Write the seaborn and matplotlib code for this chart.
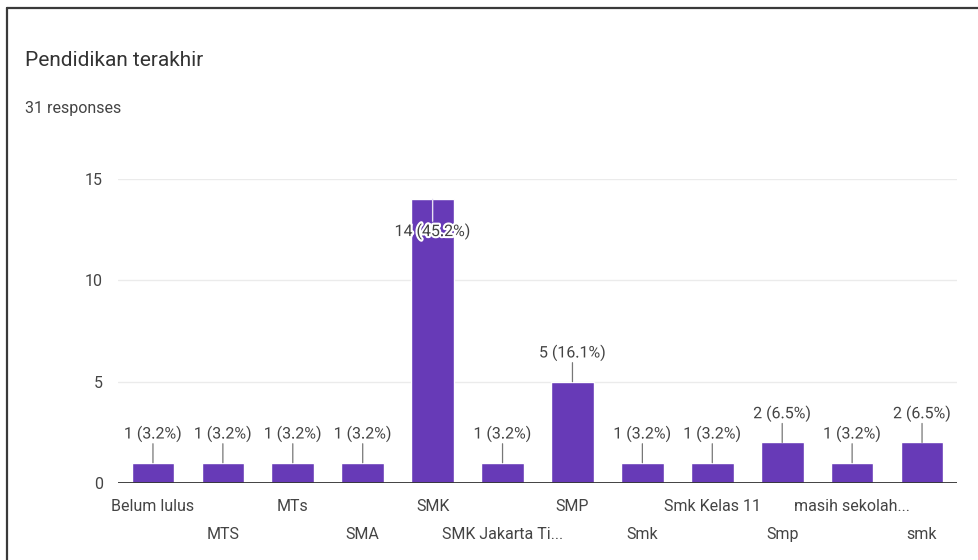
import matplotlib
matplotlib.use("Agg")
import matplotlib.pyplot as plt
import matplotlib.patheffects as pe
from matplotlib.lines import Line2D
import seaborn as sns
import pandas as pd

# Survey responses for "Pendidikan terakhir"
categories = ["Belum lulus", "MTS", "MTs", "SMA", "SMK", "SMK Jakarta Ti...",
              "SMP", "Smk", "Smk Kelas 11", "Smp", "masih sekolah...", "smk"]
counts = [1, 1, 1, 1, 14, 1, 5, 1, 1, 2, 1, 2]
total_responses = 31
title_text = "Pendidikan terakhir"
subtitle_text = "31 responses"
yticks = [0, 5, 10, 15]

sns.set_theme(style="white")
plt.rcParams["font.family"] = ["Roboto", "DejaVu Sans"]

BAR = "#673ab7"
TEXT = "#444444"
FS = 11.5

df = pd.DataFrame({"category": categories, "count": counts})

fig = plt.figure(figsize=(9.79, 5.6), dpi=100)
ax = fig.add_axes([118 / 979, 1 - 483 / 560, (957 - 118) / 979, (483 - 179) / 560])

sns.barplot(data=df, x="category", y="count", order=categories, color=BAR,
            saturation=1, width=0.61, ax=ax)

ax.set_xlim(-0.5, len(categories) - 0.5)
ax.set_ylim(0, 15)
ax.set_yticks(yticks)
ax.set_yticklabels([str(t) for t in yticks], fontsize=FS, color=TEXT)
ax.tick_params(axis="y", length=0, pad=11)
ax.tick_params(axis="x", length=0)
ax.set_xlabel("")
ax.set_ylabel("")
for s in ax.spines.values():
    s.set_visible(False)

# light horizontal gridlines, dark baseline
for t in yticks[1:]:
    ax.axhline(t, color="#ebebeb", lw=1, zorder=0)
ax.axhline(0, color="#333333", lw=1.3, zorder=3)

# staggered category labels on two rows
ax.set_xticks(range(len(categories)))
ax.set_xticklabels(categories, fontsize=FS, color=TEXT)
for i, tick in enumerate(ax.xaxis.get_major_ticks()):
    tick.set_pad(11.5 if i % 2 == 0 else 31.5)

# value labels with leader lines
halo = [pe.withStroke(linewidth=3, foreground="white")]
for i, c in enumerate(counts):
    label = f"{c} ({c / total_responses * 100:.1f}%)"
    if c >= 14:
        ax.annotate("", xy=(i, c), xytext=(0, -22), textcoords="offset pixels",
                    arrowprops=dict(arrowstyle="-", color="#e6e0f2", lw=1,
                                    shrinkA=0, shrinkB=0))
        ax.annotate(label, xy=(i, c), xytext=(0, -32), textcoords="offset pixels",
                    ha="center", va="center", fontsize=FS, color=TEXT,
                    path_effects=halo, zorder=5)
    else:
        ax.annotate("", xy=(i, c), xytext=(0, 19), textcoords="offset pixels",
                    arrowprops=dict(arrowstyle="-", color="#777777", lw=0.9,
                                    shrinkA=0, shrinkB=0))
        ax.annotate(label, xy=(i, c), xytext=(0, 29), textcoords="offset pixels",
                    ha="center", va="center", fontsize=FS, color=TEXT,
                    path_effects=halo, zorder=5)

fig.text(25 / 979, 1 - 60 / 560, title_text, fontsize=15, color="#333333",
         ha="left", va="center")
fig.text(25 / 979, 1 - 108 / 560, subtitle_text, fontsize=11.5, color=TEXT,
         ha="left", va="center")

# card frame along the top and left edges
fig.add_artist(Line2D([7.5 / 979, 7.5 / 979], [0, 1 - 7.5 / 560],
                      transform=fig.transFigure, color="#3a3a3a", lw=1.6))
fig.add_artist(Line2D([7.5 / 979, 1], [1 - 7.5 / 560, 1 - 7.5 / 560],
                      transform=fig.transFigure, color="#3a3a3a", lw=1.6))

fig.savefig("out.png", dpi=100, facecolor="white")
